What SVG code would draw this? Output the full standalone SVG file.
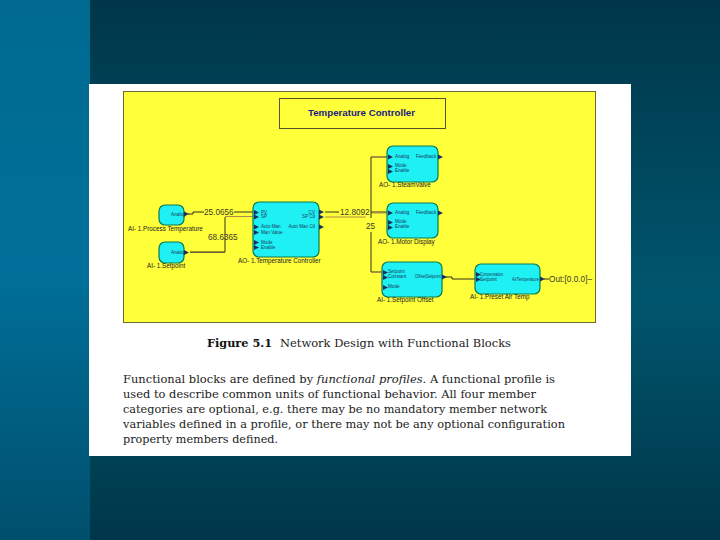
<svg xmlns="http://www.w3.org/2000/svg" width="720" height="540" viewBox="0 0 720 540">
<defs>
<linearGradient id="bgL" x1="0" y1="0" x2="0" y2="1"><stop offset="0" stop-color="#006a90"/><stop offset="0.5" stop-color="#00709a"/><stop offset="1" stop-color="#004f6c"/></linearGradient>
<linearGradient id="bgR" x1="0" y1="0" x2="0" y2="1"><stop offset="0" stop-color="#003649"/><stop offset="0.55" stop-color="#00566e"/><stop offset="1" stop-color="#003649"/></linearGradient>
</defs>
<style>
.blk{fill:#1ff0f4;stroke:#0a7a50;stroke-width:1.2}
.lbl{font:4.600px "Liberation Sans",Arial,sans-serif;fill:#1a3a60}
.cap{font:6.300px "Liberation Sans",Arial,sans-serif;fill:#222}
.val{font:8.200px "Liberation Sans",Arial,sans-serif;fill:#3a3a2a}
.wire{fill:none;stroke:#33301a;stroke-width:1}
.wire2{fill:none;stroke:#b08a50;stroke-width:1}
.pin{fill:#18305c}
.body{font:11px "DejaVu Serif","Liberation Serif",serif;fill:#222}
</style>
<rect width="720" height="540" fill="url(#bgR)"/>
<rect width="90" height="540" fill="url(#bgL)"/>
<rect x="89" y="84" width="542" height="372" fill="#fff"/>
<rect x="123.500" y="91.500" width="472" height="231" fill="#ffff3a" stroke="#6b6b30"/>
<g id="title"><rect x="279.500" y="98.500" width="166" height="30" fill="#ffff3a" stroke="#55552a"/>
<text x="308" y="115.500" textLength="107" lengthAdjust="spacingAndGlyphs" font-family="Liberation Sans, Arial, sans-serif" font-size="9.500" font-weight="bold" fill="#1a1a80">Temperature Controller</text></g>
<g id="connectors">
<path class="wire" d="M188 214H193V212H204"/><path class="wire" d="M234 212H253"/>
<path class="wire2" d="M190 252.500H225M225 216.500H253"/><path class="wire" d="M190 252H225V217"/>
<path class="wire" d="M325 212H339"/><path class="wire2" d="M325 217H366"/>
<path class="wire" d="M371 218V157H387M371 212H387"/><path class="wire2" d="M372 157H387M372 213H387"/>
<path class="wire" d="M371 232V272H382"/><path class="wire2" d="M371 272.500H382"/>
<path class="wire" d="M445 277H452V279H475"/><path class="wire" d="M544 279H549"/>
</g>
<g id="ai-process"><rect class="blk" x="159" y="205" width="25" height="20" rx="6"/><text class="lbl" x="171" y="216">Analog</text><path class="pin" d="M184 211.500l5 2.500-5 2.500z"/><text class="cap" x="128" y="231">AI- 1.Process Temperature</text></g>
<g id="ai-setpoint"><rect class="blk" x="159" y="242" width="25" height="21" rx="6"/><text class="lbl" x="171" y="254">Analog</text><path class="pin" d="M184 250l5 2.500-5 2.500z"/><text class="cap" x="147" y="268">AI- 1.Setpoint</text></g>
<g id="controller"><rect class="blk" x="253" y="202" width="66" height="55" rx="6"/>
<text class="lbl" x="261" y="213.500">PV</text><text class="lbl" x="261" y="218">SP</text><text class="lbl" x="261" y="228">Auto Man</text><text class="lbl" x="261" y="233.500">Man Value</text><text class="lbl" x="261" y="243.500">Mode</text><text class="lbl" x="261" y="248.500">Enable</text>
<text class="lbl" x="315" y="213.500" text-anchor="end">CV</text><text class="lbl" x="315" y="218" text-anchor="end">SP Ctl</text><text class="lbl" x="315" y="228" text-anchor="end">Auto Man Ctl</text>
<path class="pin" d="M254 210l5 2.500-5 2.500zM254 214.500l5 2.500-5 2.500zM254 224.500l5 2.500-5 2.500zM254 230l5 2.500-5 2.500zM254 240l5 2.500-5 2.500zM254 245l5 2.500-5 2.500zM319 209.500l5 2.500-5 2.500zM319 214.500l5 2.500-5 2.500zM319 224.500l5 2.500-5 2.500z"/>
<text class="cap" x="238" y="263">AO- 1.Temperature Controller</text></g>
<g id="ao-steam"><rect class="blk" x="387" y="146" width="51" height="36" rx="6"/><text class="lbl" x="395" y="157.500">Analog</text><text class="lbl" x="416" y="157.500">Feedback</text><text class="lbl" x="395" y="167">Mode</text><text class="lbl" x="395" y="172">Enable</text>
<path class="pin" d="M388 154.500l5 2.500-5 2.500zM388 164l5 2.500-5 2.500zM388 169l5 2.500-5 2.500zM438 154.500l5 2.500-5 2.500z"/><text class="cap" x="379" y="187">AO- 1.SteamValve</text></g>
<g id="ao-motor"><rect class="blk" x="387" y="203" width="51" height="35" rx="6"/><text class="lbl" x="395" y="214">Analog</text><text class="lbl" x="416" y="214">Feedback</text><text class="lbl" x="395" y="223">Mode</text><text class="lbl" x="395" y="228">Enable</text>
<path class="pin" d="M388 210.500l5 2.500-5 2.500zM388 220l5 2.500-5 2.500zM388 225l5 2.500-5 2.500zM438 210.500l5 2.500-5 2.500z"/><text class="cap" x="378" y="243.500">AO- 1.Motor Display</text></g>
<g id="ai-offset"><rect class="blk" x="382" y="262" width="60" height="35" rx="6"/><text class="lbl" x="388" y="273">Setpoint</text><text class="lbl" x="388" y="278">Constant</text><text class="lbl" x="388" y="288">Mode</text><text class="lbl" x="415" y="278" textLength="26" lengthAdjust="spacingAndGlyphs">OffsetSetpoint</text>
<path class="pin" d="M383 270l5 2.500-5 2.500zM383 275l5 2.500-5 2.500zM383 285l5 2.500-5 2.500zM442 274.500l5 2.500-5 2.500z"/><text class="cap" x="377" y="302">AI- 1.Setpoint Offset</text></g>
<g id="ai-preset"><rect class="blk" x="475" y="264" width="65" height="30" rx="6"/><text class="lbl" x="480" y="275.500" textLength="23" lengthAdjust="spacingAndGlyphs">Compensation</text><text class="lbl" x="480" y="280.500">Setpoint</text><text class="lbl" x="512" y="280.500" textLength="27" lengthAdjust="spacingAndGlyphs">AirTemperature</text>
<path class="pin" d="M476 272l5 2.500-5 2.500zM476 277l5 2.500-5 2.500zM540 276.500l5 2.500-5 2.500z"/><text class="cap" x="470" y="299">AI- 1.Preset Air Temp</text></g>
<g id="values"><text class="val" x="204" y="215">25.0656</text><text class="val" x="208" y="240">68.6365</text><text class="val" x="340" y="215">12.8092</text><text class="val" x="366" y="228.500">25</text><text class="val" x="549" y="282" textLength="43">Out:[0.0.0]–</text></g>
<g id="caption">
<text x="207" y="347" textLength="65" lengthAdjust="spacingAndGlyphs" font-family="DejaVu Serif, serif" font-size="11.500" font-weight="bold" fill="#111">Figure 5.1</text>
<text x="280" y="347" textLength="231" lengthAdjust="spacingAndGlyphs" font-family="DejaVu Serif, serif" font-size="11" fill="#222">Network Design with Functional Blocks</text>
<text class="body" x="123" y="383" textLength="432" lengthAdjust="spacingAndGlyphs">Functional blocks are defined by <tspan font-style="italic">functional profiles</tspan>.  A functional profile is</text>
<text class="body" x="123" y="398" textLength="413" lengthAdjust="spacingAndGlyphs">used to describe common units of functional behavior.  All four member</text>
<text class="body" x="123" y="413" textLength="424" lengthAdjust="spacingAndGlyphs">categories are optional, e.g. there may be no mandatory member network</text>
<text class="body" x="123" y="428" textLength="442" lengthAdjust="spacingAndGlyphs">variables defined in a profile, or there may not be any optional configuration</text>
<text class="body" x="123" y="443" textLength="155" lengthAdjust="spacingAndGlyphs">property members defined.</text>
</g>
</svg>
